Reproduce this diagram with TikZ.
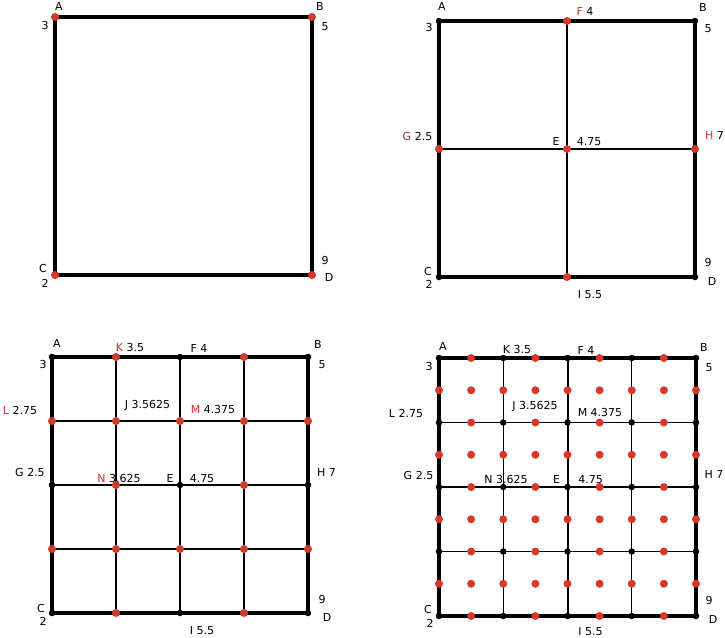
\documentclass[tikz,border=0pt]{standalone}
\usepackage{fontspec}
\setmainfont{DejaVu Sans}
\definecolor{dotred}{RGB}{214,56,46}
\definecolor{lblred}{RGB}{205,50,45}
\definecolor{lbldark}{RGB}{140,45,45}
\tikzset{
  reddot/.style={circle,fill=dotred,inner sep=0pt,minimum size=8pt},
  blackdot/.style={circle,fill=black,inner sep=0pt,minimum size=6.5pt},
  outerline/.style={line width=3.2pt,line join=round},
  halfline/.style={line width=2pt},
  crossline/.style={line width=1.7pt},
  quarterline/.style={line width=1.3pt},
  lbl/.style={font=\fontsize{11}{13}\selectfont,inner sep=0pt,text height=8pt,text depth=0pt,anchor=center}
}
\newcommand{\rl}[1]{\textcolor{lblred}{#1}}
\begin{document}
\begin{tikzpicture}[x=1pt,y=-1pt]
\useasboundingbox (0,0) rectangle (725,637);
\fill[white] (0,0) rectangle (725,637);

% ---------------- Panel 1 ----------------
\coordinate (a-A) at (55,17);
\coordinate (a-B) at (312,17);
\coordinate (a-C) at (55,275);
\coordinate (a-D) at (312,275);
\draw[outerline] (a-A) -- (a-B) -- (a-D) -- (a-C) -- cycle;
\foreach \p in {A,B,C,D} {\node[reddot] (ad-\p) at (a-\p) {};}
\node[lbl] (al1) at (59,6) {A};
\node[lbl] (al2) at (45,25) {3};
\node[lbl] (al3) at (320,6) {B};
\node[lbl] (al4) at (325,26) {5};
\node[lbl] (al5) at (43,268) {C};
\node[lbl] (al6) at (45,283) {2};
\node[lbl] (al7) at (325,260) {9};
\node[lbl] (al8) at (329,277) {D};

% ---------------- Panel 2 ----------------
\begin{scope}[shift={(439,21)}]
\foreach \i in {0,1,2}{\foreach \j in {0,1,2}{\coordinate (b-\i-\j) at (\i*128,\j*128);}}
\end{scope}
\draw[crossline] (b-1-0) -- (b-1-2);
\draw[crossline] (b-0-1) -- (b-2-1);
\draw[outerline] (b-0-0) -- (b-2-0) -- (b-2-2) -- (b-0-2) -- cycle;
\foreach \i in {0,1,2}{\foreach \j in {0,1,2}{
  \pgfmathtruncatemacro\s{mod(\i,2)+mod(\j,2)}
  \pgfmathtruncatemacro\t{\i*\j}
  \ifnum\s=0 \ifnum\t=1 \node[reddot] (bd-\i-\j) at (b-\i-\j) {}; \else \node[blackdot] (bd-\i-\j) at (b-\i-\j) {};\fi
  \else \node[reddot] (bd-\i-\j) at (b-\i-\j) {}; \fi
}}
\node[lbl] (bl1) at (442,6) {A};
\node[lbl] (bl2) at (429,27) {3};
\node[lbl] (bl3) at (585,12) {\rl{F} 4};
\node[lbl] (bl4) at (703,7) {B};
\node[lbl] (bl5) at (708,28) {5};
\node[lbl] (bl6) at (417.5,136) {\textcolor{lbldark}{G} 2.5};
\node[lbl] (bl7) at (556,141) {E};
\node[lbl] (bl8) at (589,141) {4.75};
\node[lbl] (bl9) at (714.5,135) {\rl{H} 7};
\node[lbl] (bl10) at (428,271) {C};
\node[lbl] (bl11) at (429,284) {2};
\node[lbl] (bl12) at (708,262) {9};
\node[lbl] (bl13) at (712,281) {D};
\node[lbl] (bl14) at (590,294) {I 5.5};

% ---------------- Panel 3 ----------------
\begin{scope}[shift={(52,357)}]
\foreach \i in {0,...,4}{\foreach \j in {0,...,4}{\coordinate (c-\i-\j) at (\i*64,\j*64);}}
\end{scope}
\draw[quarterline] (c-1-0) -- (c-1-4);
\draw[quarterline] (c-3-0) -- (c-3-4);
\draw[quarterline] (c-0-1) -- (c-4-1);
\draw[quarterline] (c-0-3) -- (c-4-3);
\draw[halfline] (c-2-0) -- (c-2-4);
\draw[halfline] (c-0-2) -- (c-4-2);
\draw[outerline] (c-0-0) -- (c-4-0) -- (c-4-4) -- (c-0-4) -- cycle;
\foreach \i in {0,...,4}{\foreach \j in {0,...,4}{
  \pgfmathtruncatemacro\s{mod(\i,2)+mod(\j,2)}
  \ifnum\s=0 \node[blackdot] (cd-\i-\j) at (c-\i-\j) {}; \else \node[reddot] (cd-\i-\j) at (c-\i-\j) {}; \fi
}}
\node[lbl] (cl1) at (57,343) {A};
\node[lbl] (cl2) at (43,364) {3};
\node[lbl] (cl3) at (130,347) {\rl{K} 3.5};
\node[lbl] (cl4) at (199,348) {F 4};
\node[lbl] (cl5) at (318,344) {B};
\node[lbl] (cl6) at (322,364) {5};
\node[lbl] (cl7) at (20,410) {\rl{L} 2.75};
\node[lbl] (cl8) at (147.5,404) {J 3.5625};
\node[lbl] (cl9) at (213,409) {\rl{M} 4.375};
\node[lbl] (cl10) at (30,472) {G 2.5};
\node[lbl] (cl11) at (119,478) {\rl{N} 3.625};
\node[lbl] (cl12) at (170,478) {E};
\node[lbl] (cl13) at (202,478) {4.75};
\node[lbl] (cl14) at (326.5,472) {H 7};
\node[lbl] (cl15) at (322,599) {9};
\node[lbl] (cl16) at (41,608) {C};
\node[lbl] (cl17) at (43,621) {2};
\node[lbl] (cl18) at (327,617) {D};
\node[lbl] (cl19) at (202,630) {I 5.5};

% ---------------- Panel 4 ----------------
\begin{scope}[shift={(439,358)}]
\foreach \i in {0,...,8}{\foreach \j in {0,...,8}{\coordinate (e-\i-\j) at (\i*32.125,\j*32.25);}}
\end{scope}
\draw[quarterline] (e-2-0) -- (e-2-8);
\draw[quarterline] (e-6-0) -- (e-6-8);
\draw[quarterline] (e-0-2) -- (e-8-2);
\draw[quarterline] (e-0-6) -- (e-8-6);
\draw[halfline] (e-4-0) -- (e-4-8);
\draw[halfline] (e-0-4) -- (e-8-4);
\draw[outerline] (e-0-0) -- (e-8-0) -- (e-8-8) -- (e-0-8) -- cycle;
\foreach \i in {0,...,8}{\foreach \j in {0,...,8}{
  \pgfmathtruncatemacro\s{mod(\i,2)+mod(\j,2)}
  \ifnum\s=0 \node[blackdot] (ed-\i-\j) at (e-\i-\j) {}; \else \node[reddot] (ed-\i-\j) at (e-\i-\j) {}; \fi
}}
\node[lbl] (dl1) at (443,346) {A};
\node[lbl] (dl2) at (429,366) {3};
\node[lbl] (dl3) at (517,349) {K 3.5};
\node[lbl] (dl4) at (586,350) {F 4};
\node[lbl] (dl5) at (704,347) {B};
\node[lbl] (dl6) at (709,367) {5};
\node[lbl] (dl7) at (406,413) {L 2.75};
\node[lbl] (dl8) at (535,405) {J 3.5625};
\node[lbl] (dl9) at (600,412) {M 4.375};
\node[lbl] (dl10) at (418.5,475) {G 2.5};
\node[lbl] (dl11) at (506,479) {N 3.625};
\node[lbl] (dl12) at (556.5,479) {E};
\node[lbl] (dl13) at (590.5,479) {4.75};
\node[lbl] (dl14) at (714,474) {H 7};
\node[lbl] (dl15) at (709,600) {9};
\node[lbl] (dl16) at (428,609) {C};
\node[lbl] (dl17) at (430,623) {2};
\node[lbl] (dl18) at (713,619) {D};
\node[lbl] (dl19) at (590.5,631) {I 5.5};
\end{tikzpicture}
\end{document}
